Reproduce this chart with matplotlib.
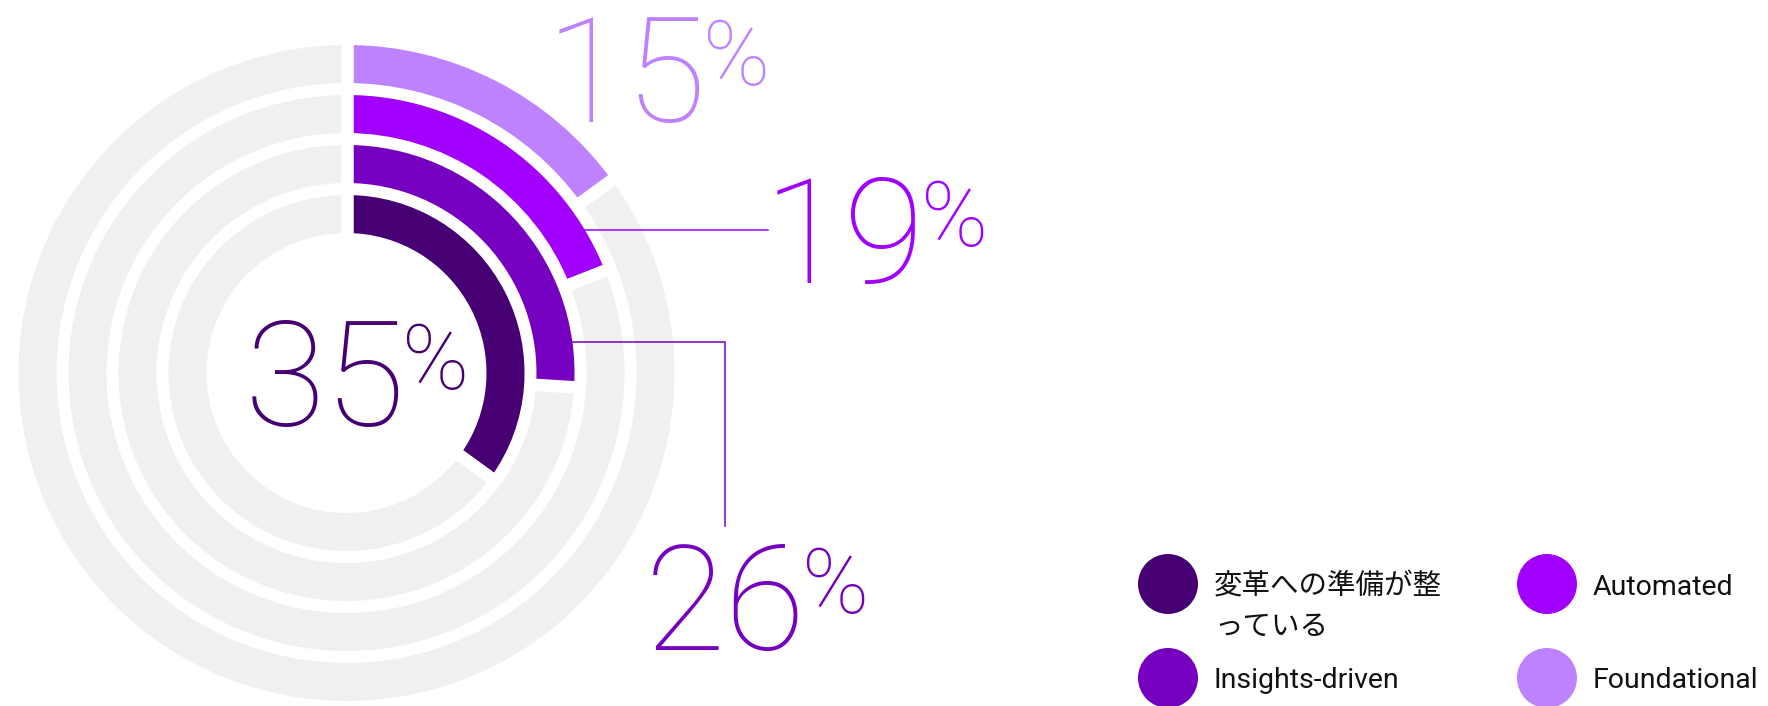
import matplotlib
matplotlib.use("Agg")
import numpy as np
import matplotlib.pyplot as plt
from matplotlib.patches import Wedge, Circle
from matplotlib.font_manager import FontProperties, fontManager, weight_dict

W, H = 1768, 706

# Share of organisations in each maturity group (inner ring first)
segments = ["変革への準備が整\nっている", "Insights-driven", "Automated", "Foundational"]
shares = [35, 26, 19, 15]
colors = ["#460073", "#7500C0", "#A100FF", "#BE82FF"]
track_color = "#F0F0F0"


def lightest_face(families):
    """Return the file of the thinnest installed face among the given families."""
    for fam in families:
        faces = [f for f in fontManager.ttflist if f.name == fam]
        if not faces:
            continue
        def wt(f):
            w = f.weight
            return weight_dict.get(w, 400) if isinstance(w, str) else int(w)
        faces = [f for f in faces if f.style == "normal"] or faces
        best = min(faces, key=wt)
        if wt(best) <= 300:
            return best.fname
    return None


thin_file = lightest_face(["Roboto", "Lato", "Inter", "Open Sans", "Noto Sans"])


def thin_font(size):
    if thin_file:
        return FontProperties(fname=thin_file, size=size)
    return FontProperties(family="DejaVu Sans", weight="light", size=size)


fig = plt.figure(figsize=(W / 100, H / 100), dpi=100)
ax = fig.add_axes([0, 0, 1, 1])
ax.set_xlim(0, W)
ax.set_ylim(0, H)
ax.set_aspect("equal")
ax.axis("off")

# ring geometry (pixels)
cx, cy = 346.5, 333
ring_w = 38
inner_outer_r = 178
ring_step = 50
gap_lw = 12.5 * 0.72  # white separator width in points

for i, (share, col) in enumerate(zip(shares, colors)):
    r_out = inner_outer_r + i * ring_step
    end_ang = 90 - 360 * share / 100
    ax.add_patch(Wedge((cx, cy), r_out, 0, 360, width=ring_w,
                       facecolor=track_color, edgecolor="none"))
    ax.add_patch(Wedge((cx, cy), r_out, end_ang, 90, width=ring_w,
                       facecolor=col, edgecolor="none"))
    for ang in (90, end_ang):
        t = np.deg2rad(ang)
        r0, r1 = r_out - ring_w - 2, r_out + 2
        ax.plot([cx + r0 * np.cos(t), cx + r1 * np.cos(t)],
                [cy + r0 * np.sin(t), cy + r1 * np.sin(t)],
                color="white", lw=gap_lw, solid_capstyle="butt", zorder=3)


def ring_mid_x(i, y):
    rm = inner_outer_r + i * ring_step - ring_w / 2
    return cx + np.sqrt(rm ** 2 - (y - cy) ** 2)


# leader lines
y19 = 476
ax.plot([ring_mid_x(2, y19), 768], [y19, y19], color=colors[2], lw=1.1, zorder=4)
y26 = 364
ax.plot([ring_mid_x(1, y26), 725, 725], [y26, y26, 180], color=colors[1], lw=1.1,
        zorder=4)

# big percentage labels: (left, baseline)
label_pos = [(245, 280), (645, 56), (764, 423), (546, 584)]
num_size = 106
pct_size = 65
for share, col, (lx, by) in zip(shares, colors, label_pos):
    num = ax.text(lx, by, f"{share}", ha="left", va="baseline", color=col,
                  fontproperties=thin_font(num_size), zorder=5)
    ax.annotate("%", xy=(1.0, by + 37), xycoords=(num, "data"),
                xytext=(-3, 0), textcoords="offset points",
                ha="left", va="baseline", color=col,
                fontproperties=thin_font(pct_size), zorder=5)

# legend
col_x = [1168, 1547]
row_base = [111, 18]
row_cy = [122, 28]
marker_r = 30
legend_fs = 20.5
for i, (name, col) in enumerate(zip(segments, colors)):
    c, r = i // 2, i % 2
    ax.add_patch(Circle((col_x[c], row_cy[r]), marker_r, facecolor=col,
                        edgecolor="none", clip_on=False))
    for k, line in enumerate(name.split("\n")):
        ax.text(col_x[c] + 46, row_base[r] - 40 * k, line, ha="left",
                va="baseline", color="#111111", fontsize=legend_fs,
                family=["Roboto", "Noto Sans CJK JP", "DejaVu Sans"])

fig.savefig("out.png", dpi=100, facecolor="white")
